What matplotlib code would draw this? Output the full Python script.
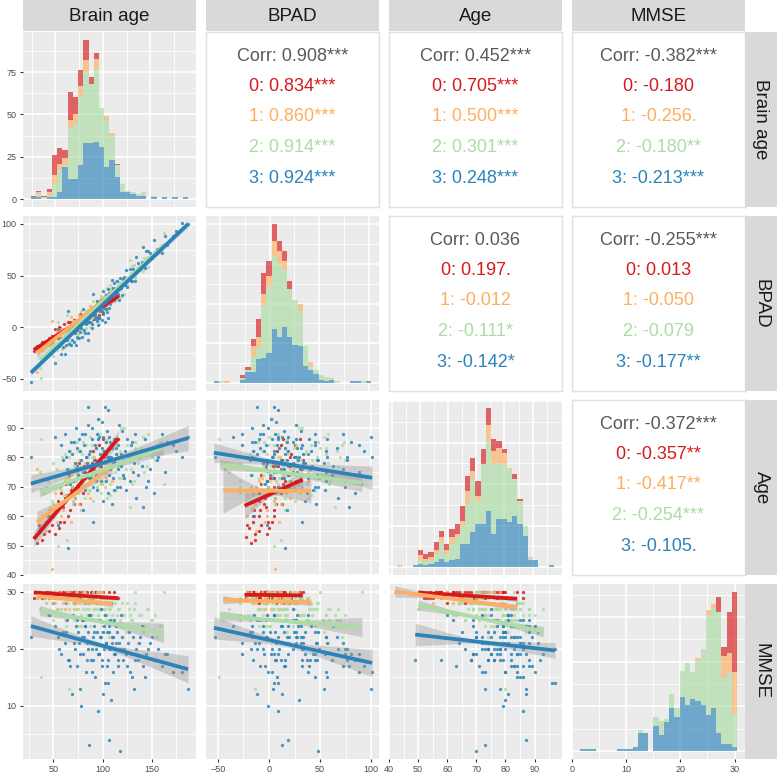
import numpy as np
import matplotlib
matplotlib.use("Agg")
import matplotlib.pyplot as plt

plt.rcParams["font.family"] = ["Liberation Sans", "DejaVu Sans"]

# =============================
# Data
# =============================
variables = ["Brain age", "BPAD", "Age", "MMSE"]
group_colors = ["#D7191C", "#FDAE61", "#ABDDA4", "#2B83BA"]

# subjects per group: brain age, chronological age, MMSE
g0_brain = [30, 33, 36, 38, 42, 45, 47, 50, 52, 55, 57, 58, 60, 62, 63, 65, 66, 68, 70, 71,
            73, 75, 76, 78, 80, 82, 84, 86, 88, 90, 92, 94, 96, 98, 100, 103, 106, 109, 112, 116,
            35, 40, 44, 49, 53, 56, 59, 61, 64, 67, 69, 72, 74, 77, 79, 81, 85, 89, 93, 101]
g0_age = [53, 51, 56, 52, 58, 55, 62, 60, 54, 65, 58, 68, 63, 66, 71, 60, 74, 69, 72, 64,
          76, 70, 78, 73, 68, 75, 80, 77, 72, 82, 79, 74, 84, 77, 86, 81, 76, 84, 79, 86,
          57, 54, 60, 57, 62, 56, 64, 58, 67, 62, 70, 66, 73, 64, 70, 77, 71, 78, 72, 80]
g0_mmse = [29, 30, 30, 29, 30, 29, 30, 28, 30, 29, 30, 29, 30, 28, 30, 29, 30, 29, 30, 28,
           30, 29, 30, 29, 30, 28, 30, 29, 30, 29, 30, 28, 30, 29, 30, 29, 30, 28, 30, 29,
           30, 29, 30, 30, 29, 30, 30, 29, 30, 30, 29, 30, 30, 29, 30, 30, 28, 30, 30, 29]

g1_brain = [33, 38, 42, 48, 50, 54, 57, 60, 63, 66, 68, 71, 74, 76, 79, 82, 85, 88, 91, 94,
            97, 100, 103, 106, 110, 45, 52, 58, 62, 70, 73, 80, 87, 92, 99]
g1_age = [76, 60, 55, 42, 64, 58, 70, 62, 67, 73, 58, 69, 75, 64, 72, 78, 68, 74, 80, 70,
          76, 82, 73, 79, 72, 62, 68, 60, 72, 65, 78, 70, 66, 75, 71]
g1_mmse = [29, 30, 28, 30, 29, 27, 30, 28, 29, 30, 29, 27, 30, 28, 29, 30, 28, 29, 27, 30,
           28, 29, 26, 28, 29, 29, 28, 30, 27, 29, 28, 30, 29, 28, 30]

g2_brain = [36, 37, 40, 44, 48, 50, 52, 55, 57, 59, 61, 63, 64, 66, 66, 67, 69, 70, 71, 73,
            74, 75, 76, 77, 78, 79, 80, 81, 82, 83, 84, 85, 86, 87, 88, 89, 90, 91, 92, 93,
            94, 95, 96, 96, 97, 98, 99, 100, 101, 102, 103, 104, 105, 106, 107, 108, 110, 112, 114, 116,
            118, 120, 122, 124, 127, 128, 130, 133, 133, 136, 139, 142, 146, 150, 155, 162,
            42, 46, 54, 58, 62, 65, 68, 72, 75, 78, 80, 83, 85, 87, 89, 91, 93, 95, 97, 99,
            100, 102, 104, 106, 108, 110, 113, 115, 117, 119, 121, 125, 129, 132, 137, 141, 145, 149, 153, 158]
g2_age = [75, 86, 68, 72, 65, 78, 70, 50, 74, 80, 67, 73, 52, 76, 80, 82, 70, 64, 77, 72,
          85, 68, 79, 74, 62, 81, 71, 76, 66, 84, 73, 78, 69, 87, 75, 80, 65, 77, 72, 83,
          70, 79, 74, 93, 88, 68, 81, 76, 72, 85, 78, 66, 80, 74, 83, 71, 79, 86, 69, 77,
          82, 73, 90, 76, 80, 63, 71, 85, 83, 78, 83, 75, 88, 80, 84, 71,
          70, 63, 76, 69, 81, 71, 74, 66, 82, 77, 85, 73, 80, 69, 84, 74, 78, 88, 71, 76,
          82, 70, 86, 79, 67, 84, 75, 81, 73, 90, 79, 84, 76, 72, 81, 87, 77, 82, 79, 85]
g2_mmse = [27, 15, 29, 26, 28, 25, 30, 27, 29, 26, 28, 24, 30, 27, 13, 29, 26, 28, 25, 30,
           27, 29, 24, 28, 26, 29, 27, 30, 25, 28, 26, 29, 27, 24, 28, 26, 30, 27, 29, 25,
           28, 26, 30, 27, 27, 29, 23, 28, 26, 27, 29, 25, 28, 22, 27, 29, 26, 28, 24, 27,
           25, 28, 26, 23, 27, 26, 25, 28, 30, 21, 26, 24, 27, 25, 22, 30,
           28, 26, 29, 27, 25, 28, 26, 29, 27, 24, 28, 27, 26, 28, 25, 29, 27, 26, 28, 24,
           27, 29, 26, 28, 27, 25, 28, 26, 27, 24, 26, 28, 25, 27, 26, 23, 27, 25, 26, 24]

g3_brain = [27, 45, 52, 55, 58, 60, 62, 64, 65, 66, 68, 69, 70, 72, 73, 74, 75, 76, 77, 78,
            79, 80, 80, 81, 82, 83, 84, 85, 85, 86, 87, 88, 89, 90, 90, 91, 92, 93, 94, 95,
            95, 96, 97, 98, 99, 100, 100, 101, 102, 102, 103, 104, 105, 105, 106, 107, 108, 109, 110, 110,
            111, 112, 113, 114, 115, 116, 118, 119, 120, 121, 123, 124, 126, 128, 130, 132, 134, 136, 138, 141,
            144, 148, 152, 156, 160, 163, 172, 181, 187,
            56, 63, 67, 71, 74, 77, 79, 82, 84, 86, 88, 89, 91, 93, 94, 96, 97, 98, 99, 101,
            103, 104, 106, 107, 108, 111, 112, 114, 116, 117, 119, 122, 125, 127, 129, 131, 133, 137, 140, 143,
            146, 150, 155, 165, 175]
g3_age = [80, 60, 87, 57, 84, 79, 88, 76, 49, 82, 85, 81, 72, 78, 90, 83, 74, 86, 73, 79,
          88, 75, 62, 84, 69, 80, 77, 91, 97, 73, 82, 76, 86, 70, 58, 79, 84, 74, 88, 86,
          93, 77, 81, 72, 83, 87, 65, 78, 75, 97, 85, 80, 68, 96, 87, 79, 76, 80, 83, 64,
          73, 86, 78, 81, 70, 84, 70, 77, 89, 74, 82, 69, 79, 72, 85, 78, 66, 74, 82, 63,
          70, 76, 68, 80, 88, 75, 84, 80, 87,
          74, 80, 71, 85, 77, 82, 70, 88, 78, 81, 73, 90, 76, 83, 69, 87, 79, 75, 92, 82,
          72, 89, 80, 74, 85, 78, 69, 83, 76, 91, 81, 73, 86, 79, 84, 75, 88, 80, 77, 86,
          72, 83, 79, 85, 82]
g3_mmse = [22, 26, 24, 22, 19, 23, 21, 25, 18, 18, 22, 12, 26, 20, 24, 17, 23, 21, 13, 10,
           25, 19, 25, 22, 24, 16, 21, 23, 20, 3, 26, 18, 20, 22, 18, 24, 15, 21, 23, 9,
           19, 19, 25, 22, 17, 12, 23, 20, 26, 14, 21, 23, 18, 14, 4, 24, 20, 11, 22, 21,
           16, 25, 19, 21, 23, 17, 2, 20, 22, 18, 24, 19, 21, 16, 15, 13, 20, 18, 22, 17,
           19, 21, 18, 20, 17, 19, 16, 16, 13,
           20, 23, 17, 21, 25, 19, 22, 24, 18, 26, 21, 16, 23, 20, 25, 19, 22, 27, 18, 24,
           21, 17, 23, 20, 25, 22, 19, 24, 18, 21, 26, 20, 17, 23, 19, 22, 18, 21, 24, 15,
           20, 22, 18, 19, 17]

# histogram counts (30 bins per variable), one list per group
brain_hist = [
    [1, 1, 1, 2, 12, 9, 5, 16, 10, 9, 12, 4, 3, 0, 0, 0, 1, 0, 0, 0, 0, 0, 0, 0, 0, 0, 0, 0, 0, 0],
    [0, 1, 0, 2, 5, 4, 4, 5, 5, 7, 7, 0, 6, 0, 2, 2, 0, 0, 0, 0, 0, 0, 0, 0, 0, 0, 0, 0, 0, 0],
    [0, 2, 1, 1, 8, 13, 1, 30, 33, 40, 42, 35, 43, 23, 28, 14, 7, 5, 1, 1, 1, 2, 0, 1, 0, 0, 0, 0, 0, 0],
    [1, 1, 0, 1, 1, 4, 19, 12, 12, 20, 33, 33, 34, 31, 19, 23, 13, 4, 4, 3, 2, 2, 0, 1, 0, 1, 0, 1, 0, 1],
]
bpad_hist = [
    [0, 0, 0, 0, 0, 2, 2, 5, 11, 13, 10, 11, 6, 6, 5, 0, 0, 0, 0, 0, 0, 0, 0, 0, 0, 0, 0, 0, 0, 0],
    [0, 0, 1, 0, 0, 0, 0, 6, 7, 7, 6, 9, 8, 6, 0, 0, 5, 0, 2, 0, 0, 0, 0, 0, 0, 0, 0, 0, 0, 0],
    [0, 1, 0, 0, 0, 1, 1, 10, 7, 33, 42, 46, 46, 36, 30, 28, 22, 12, 3, 2, 3, 3, 1, 1, 0, 0, 0, 0, 1, 0],
    [1, 0, 0, 0, 0, 2, 7, 7, 15, 16, 19, 34, 29, 35, 29, 24, 23, 11, 8, 6, 2, 1, 2, 0, 0, 0, 1, 1, 0, 1],
]
age_hist = [
    [0, 0, 0, 0, 3, 3, 3, 5, 4, 4, 5, 6, 9, 9, 8, 9, 9, 10, 7, 4, 2, 0, 3, 1, 0, 0, 0, 0, 0, 0],
    [1, 0, 0, 0, 3, 2, 2, 2, 3, 2, 4, 2, 3, 8, 5, 3, 0, 10, 8, 9, 7, 1, 0, 0, 0, 0, 0, 0, 0, 0],
    [0, 0, 0, 0, 2, 2, 2, 5, 10, 5, 10, 13, 11, 24, 32, 14, 36, 42, 42, 34, 33, 32, 22, 14, 6, 2, 0, 0, 0, 0],
    [0, 0, 0, 1, 2, 1, 2, 3, 5, 3, 4, 5, 14, 14, 21, 26, 26, 34, 20, 29, 29, 27, 31, 26, 19, 4, 4, 0, 0, 1],
]
mmse_hist = [
    [0, 0, 0, 0, 0, 0, 0, 0, 0, 0, 0, 0, 0, 0, 0, 0, 0, 0, 0, 0, 0, 0, 0, 0, 0, 0, 8, 5, 23, 45],
    [0, 0, 0, 0, 0, 0, 0, 0, 0, 0, 0, 0, 0, 0, 0, 0, 0, 0, 0, 0, 0, 0, 1, 0, 3, 2, 0, 12, 11, 23],
    [0, 0, 0, 0, 0, 0, 0, 0, 0, 0, 0, 2, 0, 0, 5, 8, 2, 8, 5, 15, 23, 15, 23, 31, 56, 56, 68, 37, 40, 19],
    [1, 1, 1, 0, 0, 0, 0, 1, 1, 1, 2, 10, 10, 0, 14, 9, 16, 24, 19, 30, 26, 29, 28, 26, 20, 24, 10, 4, 4, 2],
]
hists = [brain_hist, bpad_hist, age_hist, mmse_hist]

# data range of each variable (min, max)
var_range = [(27, 187), (-54, 100), (42.7, 96.7), (2, 30)]

major_ticks = [[50, 100, 150], [-50, 0, 50, 100], [40, 50, 60, 70, 80, 90], [10, 20, 30]]
minor_ticks = [[25, 75, 125, 175], [-25, 25, 75], [45, 55, 65, 75, 85, 95], [5, 15, 25]]
mmse_diag_major = [0, 10, 20, 30]

# fitted lines per panel (row, col): per group [x0, x1, y0, y1, halfwidth at x0, halfwidth at x1]
fits = {
    (1, 0): [[30, 116, -22, 30, 4, 4], [33, 110, -25, 33, 5, 5],
             [36, 162, -32, 79, 3, 4], [27, 187, -44, 100, 2.5, 3]],
    (2, 0): [[30, 116, 52.2, 86.4, 2.8, 2.5], [33, 110, 58, 77, 3.7, 2.6],
             [36, 162, 68, 83.2, 1.5, 2.5], [27, 187, 71, 86.5, 3.1, 4.3]],
    (3, 0): [[30, 116, 29.9, 28.9, 0.4, 0.4], [33, 110, 29.3, 27.9, 0.5, 0.6],
             [36, 162, 26.7, 22.8, 0.9, 1.7], [27, 187, 24.0, 16.4, 1.8, 2.4]],
    (2, 1): [[-24, 33, 63.5, 72.4, 4.5, 3.5], [-45, 41, 68.7, 68.5, 7.7, 4.0],
             [-48, 91, 77.5, 71.3, 1.8, 3.0], [-54, 101, 81.5, 73.0, 3.3, 4.0]],
    (3, 1): [[-24, 33, 29.5, 29.4, 0.4, 0.4], [-45, 41, 28.6, 28.2, 0.7, 0.6],
             [-48, 91, 25.8, 23.8, 0.9, 1.7], [-54, 101, 23.7, 17.5, 2.0, 2.4]],
    (3, 2): [[50, 84, 29.9, 28.8, 0.5, 0.5], [42, 84, 30.1, 27.3, 1.0, 0.6],
             [50, 93, 27.7, 23.0, 0.9, 0.9], [49, 97, 22.5, 19.7, 2.0, 1.4]],
}

corr_text = {
    (0, 1): ["Corr: 0.908***", "0: 0.834***", "1: 0.860***", "2: 0.914***", "3: 0.924***"],
    (0, 2): ["Corr: 0.452***", "0: 0.705***", "1: 0.500***", "2: 0.301***", "3: 0.248***"],
    (0, 3): ["Corr: -0.382***", "0: -0.180", "1: -0.256.", "2: -0.180**", "3: -0.213***"],
    (1, 2): ["Corr: 0.036", "0: 0.197.", "1: -0.012", "2: -0.111*", "3: -0.142*"],
    (1, 3): ["Corr: -0.255***", "0: 0.013", "1: -0.050", "2: -0.079", "3: -0.177**"],
    (2, 3): ["Corr: -0.372***", "0: -0.357**", "1: -0.417**", "2: -0.254***", "3: -0.105."],
}


def main():
    brains = [g0_brain, g1_brain, g2_brain, g3_brain]
    ages = [g0_age, g1_age, g2_age, g3_age]
    mmses = [g0_mmse, g1_mmse, g2_mmse, g3_mmse]
    # per group: [brain age, BPAD, age, MMSE]
    groups = []
    for b, a, m in zip(brains, ages, mmses):
        b = np.array(b, float)
        a = np.array(a, float)
        groups.append([b, b - a, a, np.array(m, float)])

    def expand(lo, hi, f=0.05):
        d = (hi - lo) * f
        return lo - d, hi + d

    lims = [expand(*r) for r in var_range]

    W, H = 777, 776
    col_left = [23, 206, 389, 572]
    row_top = [32, 216, 400, 584]
    pw, ph = 173, 175

    fig = plt.figure(figsize=(W / 100, H / 100), dpi=100)

    def px_axes(l, t, w, h):
        return fig.add_axes([l / W, 1 - (t + h) / H, w / W, h / H])

    bg = "#EBEBEB"
    tick_color = "#4D4D4D"

    def style_grid(ax, xmaj, xmin, ymaj, ymin):
        for v in xmin:
            ax.axvline(v, color="white", lw=0.6, zorder=0)
        for v in ymin:
            ax.axhline(v, color="white", lw=0.6, zorder=0)
        for v in xmaj:
            ax.axvline(v, color="white", lw=1.2, zorder=0)
        for v in ymaj:
            ax.axhline(v, color="white", lw=1.2, zorder=0)

    def band_line(ax, f, color):
        x0, x1, y0, y1, h0, h1 = f
        xs = np.linspace(x0, x1, 100)
        ys = y0 + (y1 - y0) * (xs - x0) / (x1 - x0)
        xm = x0 + 0.45 * (x1 - x0)
        hc = 0.25 * min(h0, h1)
        t = np.where(xs < xm, (xm - xs) / (xm - x0), (xs - xm) / (x1 - xm))
        hend = np.where(xs < xm, h0, h1)
        hw = np.sqrt(hc ** 2 + (hend ** 2 - hc ** 2) * t ** 2)
        ax.fill_between(xs, ys - hw, ys + hw, color="#999999", alpha=0.4, lw=0, zorder=3)
        ax.plot(xs, ys, color=color, lw=2.7, solid_capstyle="butt", zorder=4)

    for i in range(4):
        for j in range(4):
            ax = px_axes(col_left[j], row_top[i], pw, ph)
            if i < j:
                # correlation panel
                ax.set_facecolor("white")
                ax.set_xlim(0, 1)
                ax.set_ylim(0, 1)
                for s in ax.spines.values():
                    s.set_color("#E0E0E0")
                    s.set_linewidth(1.0)
                ypos = [0.86, 0.69, 0.515, 0.34, 0.165]
                cols = ["#595959"] + group_colors
                for txt, yy, cc in zip(corr_text[(i, j)], ypos, cols):
                    ax.text(0.5, yy, txt, ha="center", va="center", fontsize=13, color=cc,
                            transform=ax.transAxes)
                ax.set_xticks([])
                ax.set_yticks([])
                continue

            ax.set_facecolor(bg)
            for s in ax.spines.values():
                s.set_visible(False)

            if i == j:
                # stacked histogram, blue at bottom, red on top
                lo, hi = var_range[j]
                nb = 30
                w = (hi - lo) / (nb - 1)
                centers = np.linspace(lo, hi, nb)
                counts = [np.array(c, float) for c in hists[j]]
                bottom = np.zeros(nb)
                for g in [3, 2, 1, 0]:
                    ax.bar(centers, counts[g], width=w, bottom=bottom, color=group_colors[g],
                           alpha=0.65, lw=0, zorder=2)
                    bottom = bottom + counts[g]
                top = bottom.max()
                ax.set_ylim(-0.05 * top, 1.05 * top)
                ax.set_xlim(*expand(lo - w / 2, hi + w / 2))
                ymaj = [v for v in np.arange(0, 126, 25) if v <= 1.05 * top]
                ymin = [v for v in np.arange(12.5, 126, 25) if v <= 1.05 * top]
                xmaj = mmse_diag_major if j == 3 else major_ticks[j]
                style_grid(ax, xmaj, minor_ticks[j], ymaj, ymin)
                if j == 3:
                    ax.set_xlim(0, ax.get_xlim()[1])
                ax.set_xticks(xmaj)
                ax.set_yticks(ymaj)
            else:
                # scatter with group fits
                for g in range(4):
                    ax.scatter(groups[g][j], groups[g][i], s=5.5, color=group_colors[g],
                               alpha=0.85, lw=0, zorder=2)
                for g in range(4):
                    band_line(ax, fits[(i, j)][g], group_colors[g])
                ax.set_xlim(*lims[j])
                ax.set_ylim(*lims[i])
                style_grid(ax, major_ticks[j], minor_ticks[j], major_ticks[i], minor_ticks[i])
                ax.set_xticks(major_ticks[j])
                ax.set_yticks(major_ticks[i])

            ax.tick_params(colors="#333333", labelcolor=tick_color, labelsize=6.5,
                           length=2.5, width=0.8, pad=2)
            if j != 0:
                ax.tick_params(axis="y", left=False, labelleft=False)
            if i != 3:
                ax.tick_params(axis="x", bottom=False, labelbottom=False)

    # strips
    strip_bg = "#D9D9D9"
    for j in range(4):
        sa = px_axes(col_left[j], 0, pw, 31)
        sa.set_facecolor(strip_bg)
        sa.set_xticks([])
        sa.set_yticks([])
        for s in sa.spines.values():
            s.set_visible(False)
        sa.text(0.5, 0.47, variables[j], ha="center", va="center", fontsize=13.5,
                color="#1A1A1A", transform=sa.transAxes)
    for i in range(4):
        sa = px_axes(745, row_top[i], 32, ph)
        sa.set_facecolor(strip_bg)
        sa.set_xticks([])
        sa.set_yticks([])
        for s in sa.spines.values():
            s.set_visible(False)
        sa.text(0.5, 0.5, variables[i], ha="center", va="center", fontsize=13.5,
                color="#1A1A1A", rotation=-90, transform=sa.transAxes)

    fig.savefig("out.png", dpi=100, facecolor="white")
    plt.close(fig)


if __name__ == "__main__":
    main()
